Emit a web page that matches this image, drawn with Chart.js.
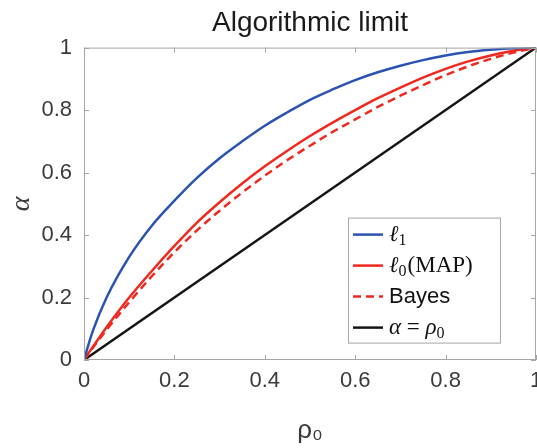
<!DOCTYPE html>
<html>
<head>
<meta charset="utf-8">
<script src="https://cdn.jsdelivr.net/npm/chart.js@4/dist/chart.umd.min.js"></script>
<style>
  html, body { margin: 0; padding: 0; background: #fff; overflow: hidden; }
  #wrap { width: 537px; height: 448px; }
</style>
</head>
<body>
<div id="wrap"><canvas id="limitChart" width="537" height="448"></canvas></div>
<script>
// rho_0 grid and the limit curves alpha(rho_0)
const rho = [0, 0.01, 0.02, 0.05, 0.1, 0.15, 0.2, 0.25, 0.3, 0.35, 0.4, 0.45, 0.5,
             0.55, 0.6, 0.65, 0.7, 0.75, 0.8, 0.85, 0.9, 0.95, 1];
const alphaL1 = [0, 0.05, 0.095, 0.2, 0.33, 0.43, 0.51, 0.583, 0.646, 0.70, 0.75, 0.793, 0.833,
                 0.866, 0.896, 0.921, 0.942, 0.96, 0.975, 0.986, 0.993, 0.998, 1];
const alphaL0 = [0, 0.022, 0.043, 0.105, 0.20, 0.285, 0.365, 0.44, 0.505, 0.565, 0.62, 0.67, 0.717,
                 0.76, 0.80, 0.838, 0.872, 0.904, 0.932, 0.956, 0.975, 0.99, 1];
const alphaBayes = [0, 0.02, 0.04, 0.097, 0.185, 0.268, 0.345, 0.415, 0.478, 0.536, 0.59, 0.64, 0.686,
                    0.73, 0.77, 0.81, 0.846, 0.88, 0.912, 0.94, 0.964, 0.984, 1];
const diagRho = [0, 1];
const diagAlpha = [0, 1];
const tickValues = [0, 0.2, 0.4, 0.6, 0.8, 1];

const axisGray = '#a6a6a6';
const textGray = '#3a3a3a';
const serif = '"Liberation Serif", "DejaVu Serif", serif';
const sans = '"Liberation Sans", Arial, sans-serif';

function toPoints(xs, ys) {
    return xs.map((x, i) => ({ x: x, y: ys[i] }));
}

// draws a label like 'ℓ₀(MAP)': greek / ell letters italic, subscripts small and lowered
function drawMath(ctx, text, x, y, size) {
    const subs = { '₀': '0', '₁': '1' };
    let cx = x;
    for (const ch of text) {
        if (subs[ch]) {
            ctx.font = Math.round(size * 0.7) + 'px ' + serif;
            ctx.fillText(subs[ch], cx, y + size * 0.25);
            cx += ctx.measureText(subs[ch]).width + 1;
        } else {
            const italic = 'ℓαρ'.includes(ch);
            ctx.font = (italic ? 'italic ' : '') + size + 'px ' + serif;
            ctx.fillText(ch, cx, y);
            cx += ctx.measureText(ch).width;
        }
    }
}

// box around the plot with inward ticks on all four sides
const boxPlugin = {
    id: 'boxTicks',
    afterDatasetsDraw(chart) {
        const { ctx, chartArea: a, scales } = chart;
        const len = 5;
        ctx.save();
        ctx.strokeStyle = axisGray;
        ctx.lineWidth = 1;
        ctx.strokeRect(a.left + 0.5, a.top + 0.5, a.right - a.left - 1, a.bottom - a.top - 1);
        ctx.beginPath();
        tickValues.forEach(v => {
            const px = Math.round(scales.x.getPixelForValue(v)) + 0.5;
            ctx.moveTo(px, a.bottom); ctx.lineTo(px, a.bottom - len);
            ctx.moveTo(px, a.top); ctx.lineTo(px, a.top + len);
            const py = Math.round(scales.y.getPixelForValue(v)) + 0.5;
            ctx.moveTo(a.left, py); ctx.lineTo(a.left + len, py);
            ctx.moveTo(a.right, py); ctx.lineTo(a.right - len, py);
        });
        ctx.stroke();
        ctx.restore();
    }
};

// legend box in the lower right corner of the plot
const legendPlugin = {
    id: 'insideLegend',
    afterDraw(chart) {
        const { ctx, chartArea: a } = chart;
        const left = a.right - 188;
        const top = a.top + 170;
        const w = 152, h = 125;
        ctx.save();
        ctx.fillStyle = '#fff';
        ctx.fillRect(left, top, w, h);
        ctx.strokeStyle = axisGray;
        ctx.lineWidth = 1;
        ctx.strokeRect(left + 0.5, top + 0.5, w, h);
        chart.data.datasets.forEach((ds, i) => {
            const y = top + 17 + i * 31;
            ctx.strokeStyle = ds.borderColor;
            ctx.lineWidth = ds.borderWidth;
            ctx.setLineDash(ds.borderDash || []);
            ctx.beginPath();
            ctx.moveTo(left + 5, y);
            ctx.lineTo(left + 35, y);
            ctx.stroke();
            ctx.setLineDash([]);
            ctx.fillStyle = '#111';
            ctx.textBaseline = 'middle';
            if (ds.label === 'Bayes') {
                ctx.font = '22px ' + sans;
                ctx.fillText(ds.label, left + 41, y);
            } else {
                drawMath(ctx, ds.label, left + 41, y, 23);
            }
        });
        ctx.restore();
    }
};

new Chart(document.getElementById('limitChart'), {
    type: 'line',
    data: {
        datasets: [
            {
                label: 'ℓ₁',
                data: toPoints(rho, alphaL1),
                borderColor: '#2b53b3',
                borderWidth: 2.5
            },
            {
                label: 'ℓ₀(MAP)',
                data: toPoints(rho, alphaL0),
                borderColor: '#f0281e',
                borderWidth: 2.5
            },
            {
                label: 'Bayes',
                data: toPoints(rho, alphaBayes),
                borderColor: '#f0281e',
                borderWidth: 2.5,
                borderDash: [8, 5]
            },
            {
                label: 'α = ρ₀',
                data: toPoints(diagRho, diagAlpha),
                borderColor: '#151515',
                borderWidth: 2.5
            }
        ]
    },
    options: {
        responsive: false,
        animation: false,
        layout: { padding: { left: 0, right: 1, top: 0, bottom: 0 } },
        elements: {
            point: { radius: 0 },
            line: { cubicInterpolationMode: 'monotone', fill: false }
        },
        plugins: {
            legend: { display: false },
            tooltip: { enabled: false },
            title: {
                display: true,
                fullSize: false,
                text: 'Algorithmic limit',
                color: '#1a1a1a',
                font: { family: sans, size: 28, weight: 'normal' },
                padding: { top: 6, bottom: 8 }
            }
        },
        scales: {
            x: {
                type: 'linear',
                min: 0,
                max: 1,
                grid: { display: false, drawTicks: false },
                border: { display: false },
                ticks: {
                    stepSize: 0.2,
                    padding: 8,
                    color: textGray,
                    maxRotation: 0,
                    font: { family: sans, size: 22 },
                    callback: v => String(+v.toFixed(1))
                },
                title: {
                    display: true,
                    text: 'ρ₀',
                    color: textGray,
                    font: { family: sans, size: 26 },
                    padding: { top: 0, bottom: 2 }
                },
                afterFit(scale) {
                    scale.height = 88;
                    scale.paddingLeft = 0;
                    scale.paddingRight = 0;
                }
            },
            y: {
                min: 0,
                max: 1,
                grid: { display: false, drawTicks: false },
                border: { display: false },
                ticks: {
                    stepSize: 0.2,
                    padding: 12,
                    color: textGray,
                    font: { family: sans, size: 22 },
                    callback: v => String(+v.toFixed(1))
                },
                title: {
                    display: true,
                    text: 'α',
                    color: textGray,
                    font: { family: serif, size: 28, style: 'italic' },
                    padding: { top: 5, bottom: 0 }
                },
                afterFit(scale) {
                    scale.width = 84;
                }
            }
        }
    },
    plugins: [boxPlugin, legendPlugin]
});
</script>
</body>
</html>
